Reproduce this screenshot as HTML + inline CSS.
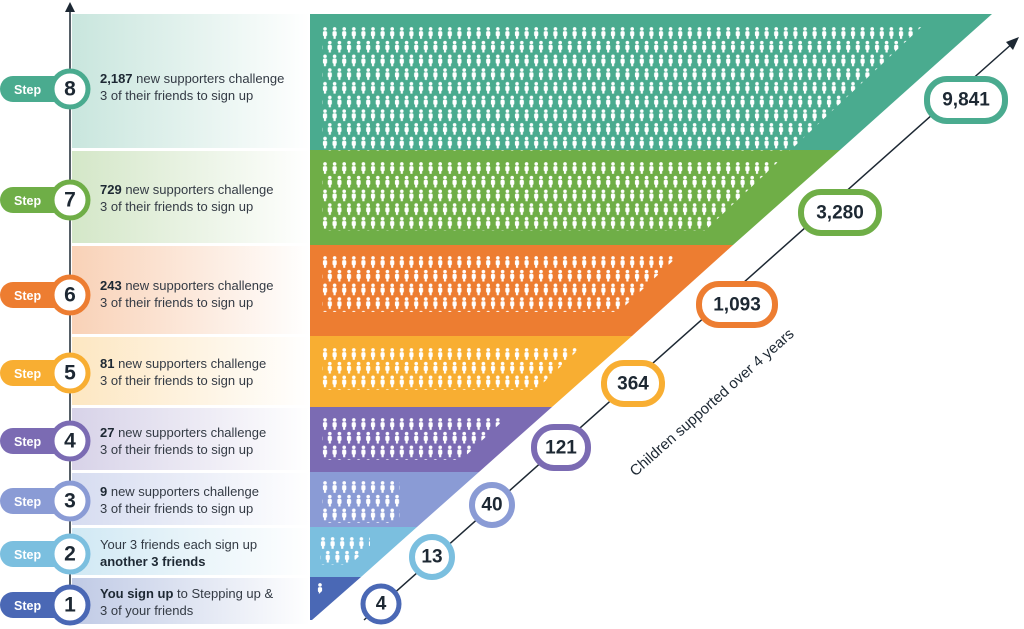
<!DOCTYPE html>
<html><head><meta charset="utf-8"><style>
html,body{margin:0;padding:0;background:#fff;width:1024px;height:629px;overflow:hidden}
svg{display:block}
.t{font-family:"Liberation Sans",sans-serif;font-size:13px;fill:#333a44}
.b{font-weight:bold;fill:#1d2833}
.st{font-family:"Liberation Sans",sans-serif;font-size:12.5px;font-weight:bold;fill:#fff}
.n{font-family:"Liberation Sans",sans-serif;font-size:21px;font-weight:bold;fill:#1d2833;text-anchor:middle;dominant-baseline:central}
.bn{font-family:"Liberation Sans",sans-serif;font-size:19px;font-weight:bold;fill:#1d2833;text-anchor:middle;dominant-baseline:central}
</style></head><body>
<svg width="1024" height="629" viewBox="0 0 1024 629" xmlns="http://www.w3.org/2000/svg">
<defs>
<g id="p"><circle cx="3" cy="1.9" r="1.8" fill="#fff"/><rect x="0.9" y="4.1" width="4.2" height="5.2" rx="1.5" fill="#fff"/><rect x="1.9" y="8.5" width="2.2" height="3.3" fill="#fff"/></g>
<pattern id="pt" patternUnits="userSpaceOnUse" width="9.6" height="27.4"><use href="#p" x="0" y="0"/><use href="#p" x="4.8" y="13.7"/><use href="#p" x="-4.8" y="13.7"/></pattern>
<clipPath id="tri"><polygon points="310,0 950,0 270,640 310,640"/></clipPath>
<linearGradient id="g8" x1="0" x2="1"><stop offset="0" stop-color="#4aab8f" stop-opacity=".3"/><stop offset="1" stop-color="#4aab8f" stop-opacity="0"/></linearGradient>
<linearGradient id="g7" x1="0" x2="1"><stop offset="0" stop-color="#6fae47" stop-opacity=".3"/><stop offset="1" stop-color="#6fae47" stop-opacity="0"/></linearGradient>
<linearGradient id="g6" x1="0" x2="1"><stop offset="0" stop-color="#ed7d31" stop-opacity=".35"/><stop offset="1" stop-color="#ed7d31" stop-opacity="0"/></linearGradient>
<linearGradient id="g5" x1="0" x2="1"><stop offset="0" stop-color="#f8ae32" stop-opacity=".3"/><stop offset="1" stop-color="#f8ae32" stop-opacity="0"/></linearGradient>
<linearGradient id="g4" x1="0" x2="1"><stop offset="0" stop-color="#7b6bb3" stop-opacity=".3"/><stop offset="1" stop-color="#7b6bb3" stop-opacity="0"/></linearGradient>
<linearGradient id="g3" x1="0" x2="1"><stop offset="0" stop-color="#8a9bd5" stop-opacity=".35"/><stop offset="1" stop-color="#8a9bd5" stop-opacity="0"/></linearGradient>
<linearGradient id="g2" x1="0" x2="1"><stop offset="0" stop-color="#7bbfdf" stop-opacity=".35"/><stop offset="1" stop-color="#7bbfdf" stop-opacity="0"/></linearGradient>
<linearGradient id="g1" x1="0" x2="1"><stop offset="0" stop-color="#4a68b5" stop-opacity=".35"/><stop offset="1" stop-color="#4a68b5" stop-opacity="0"/></linearGradient>
</defs>

<!-- left panels -->
<rect x="72" y="14" width="238" height="134" fill="url(#g8)"/>
<rect x="72" y="151" width="238" height="92" fill="url(#g7)"/>
<rect x="72" y="246" width="238" height="88" fill="url(#g6)"/>
<rect x="72" y="337" width="238" height="68" fill="url(#g5)"/>
<rect x="72" y="408" width="238" height="62" fill="url(#g4)"/>
<rect x="72" y="473" width="238" height="52" fill="url(#g3)"/>
<rect x="72" y="528" width="238" height="47" fill="url(#g2)"/>
<rect x="72" y="578" width="238" height="46" fill="url(#g1)"/>

<!-- bands -->
<polygon points="310,14 992,14 840,150 310,150" fill="#4aab8f"/>
<polygon points="310,150 840,150 733,245 310,245" fill="#6fae47"/>
<polygon points="310,245 733,245 632,336 310,336" fill="#ed7d31"/>
<polygon points="310,336 632,336 552,407 310,407" fill="#f8ae32"/>
<polygon points="310,407 552,407 479,472 310,472" fill="#7b6bb3"/>
<polygon points="310,472 479,472 417,527 310,527" fill="#8a9bd5"/>
<polygon points="310,527 417,527 361,577 310,577" fill="#7bbfdf"/>
<polygon points="310,577 361,577 312,620 310,620" fill="#4a68b5"/>

<!-- people -->
<g clip-path="url(#tri)">
<g transform="translate(322,27)"><rect x="0" y="0" width="630" height="124" fill="url(#pt)"/></g>
<g transform="translate(322,162)"><rect x="0" y="0" width="600" height="69" fill="url(#pt)"/></g>
<g transform="translate(322,256)"><rect x="0" y="0" width="600" height="56" fill="url(#pt)"/></g>
<g transform="translate(322,348)"><rect x="0" y="0" width="600" height="42" fill="url(#pt)"/></g>
<g transform="translate(322,418)"><rect x="0" y="0" width="600" height="42" fill="url(#pt)"/></g>
<g transform="translate(322,481)"><rect x="0" y="0" width="78" height="42" fill="url(#pt)"/></g>
<g transform="translate(320,537)"><rect x="0" y="0" width="50" height="28" fill="url(#pt)"/></g>
<use href="#p" x="317" y="583"/>
</g>

<!-- left axis -->
<line x1="70" y1="10" x2="70" y2="622" stroke="#1d2833" stroke-width="1.5"/>
<polygon points="70,2 65,12 75,12" fill="#1d2833"/>

<!-- steps -->
<g>
<rect x="0" y="76" width="75" height="26" rx="13" fill="#4aab8f"/><circle cx="70" cy="89" r="18" fill="#fff" stroke="#4aab8f" stroke-width="5"/><text x="14" y="94" class="st">Step</text><text x="70" y="89" class="n">8</text>
<rect x="0" y="187" width="75" height="26" rx="13" fill="#6fae47"/><circle cx="70" cy="200" r="18" fill="#fff" stroke="#6fae47" stroke-width="5"/><text x="14" y="205" class="st">Step</text><text x="70" y="200" class="n">7</text>
<rect x="0" y="282" width="75" height="26" rx="13" fill="#ed7d31"/><circle cx="70" cy="295" r="18" fill="#fff" stroke="#ed7d31" stroke-width="5"/><text x="14" y="300" class="st">Step</text><text x="70" y="295" class="n">6</text>
<rect x="0" y="360" width="75" height="26" rx="13" fill="#f8ae32"/><circle cx="70" cy="373" r="18" fill="#fff" stroke="#f8ae32" stroke-width="5"/><text x="14" y="378" class="st">Step</text><text x="70" y="373" class="n">5</text>
<rect x="0" y="428" width="75" height="26" rx="13" fill="#7b6bb3"/><circle cx="70" cy="441" r="18" fill="#fff" stroke="#7b6bb3" stroke-width="5"/><text x="14" y="446" class="st">Step</text><text x="70" y="441" class="n">4</text>
<rect x="0" y="488" width="75" height="26" rx="13" fill="#8a9bd5"/><circle cx="70" cy="501" r="18" fill="#fff" stroke="#8a9bd5" stroke-width="5"/><text x="14" y="506" class="st">Step</text><text x="70" y="501" class="n">3</text>
<rect x="0" y="541" width="75" height="26" rx="13" fill="#7bbfdf"/><circle cx="70" cy="554" r="18" fill="#fff" stroke="#7bbfdf" stroke-width="5"/><text x="14" y="559" class="st">Step</text><text x="70" y="554" class="n">2</text>
<rect x="0" y="592" width="75" height="26" rx="13" fill="#4a68b5"/><circle cx="70" cy="605" r="18" fill="#fff" stroke="#4a68b5" stroke-width="5"/><text x="14" y="610" class="st">Step</text><text x="70" y="605" class="n">1</text>
</g>

<!-- step texts -->
<text class="t" x="100" y="83"><tspan class="b">2,187</tspan> new supporters challenge</text><text class="t" x="100" y="100">3 of their friends to sign up</text>
<text class="t" x="100" y="194"><tspan class="b">729</tspan> new supporters challenge</text><text class="t" x="100" y="211">3 of their friends to sign up</text>
<text class="t" x="100" y="290"><tspan class="b">243</tspan> new supporters challenge</text><text class="t" x="100" y="307">3 of their friends to sign up</text>
<text class="t" x="100" y="368"><tspan class="b">81</tspan> new supporters challenge</text><text class="t" x="100" y="385">3 of their friends to sign up</text>
<text class="t" x="100" y="437"><tspan class="b">27</tspan> new supporters challenge</text><text class="t" x="100" y="454">3 of their friends to sign up</text>
<text class="t" x="100" y="496"><tspan class="b">9</tspan> new supporters challenge</text><text class="t" x="100" y="513">3 of their friends to sign up</text>
<text class="t" x="100" y="549">Your 3 friends each sign up</text><text class="t b" x="100" y="566">another 3 friends</text>
<text class="t" x="100" y="598"><tspan class="b">You sign up</tspan> to Stepping up &amp;</text><text class="t" x="100" y="615">3 of your friends</text>

<!-- diagonal axis -->
<line x1="364" y1="620" x2="1014" y2="42" stroke="#1d2833" stroke-width="1.5"/>
<polygon points="1019,37 1006,42 1013,50" fill="#1d2833"/>
<text x="0" y="0" transform="translate(715,406) rotate(-41.6)" text-anchor="middle" font-family="Liberation Sans,sans-serif" font-size="15" fill="#1d2833">Children supported over 4 years</text>

<!-- badges -->
<circle cx="381" cy="604" r="18" fill="#fff" stroke="#4a68b5" stroke-width="5"/><text x="381" y="604" class="bn">4</text>
<circle cx="432" cy="557" r="20" fill="#fff" stroke="#7bbfdf" stroke-width="6"/><text x="432" y="557" class="bn">13</text>
<circle cx="492" cy="505" r="20" fill="#fff" stroke="#8a9bd5" stroke-width="6"/><text x="492" y="505" class="bn">40</text>
<rect x="534" y="427" width="54" height="41" rx="20" fill="#fff" stroke="#7b6bb3" stroke-width="6"/><text x="561" y="448" class="bn">121</text>
<rect x="604" y="363" width="58" height="41" rx="20" fill="#fff" stroke="#f8ae32" stroke-width="6"/><text x="633" y="384" class="bn">364</text>
<rect x="699" y="284" width="76" height="41" rx="20" fill="#fff" stroke="#ed7d31" stroke-width="6"/><text x="737" y="305" class="bn">1,093</text>
<rect x="801" y="192" width="78" height="41" rx="20" fill="#fff" stroke="#6fae47" stroke-width="6"/><text x="840" y="213" class="bn">3,280</text>
<rect x="927" y="79" width="78" height="42" rx="20" fill="#fff" stroke="#4aab8f" stroke-width="6"/><text x="966" y="100" class="bn">9,841</text>
</svg>
</body></html>
